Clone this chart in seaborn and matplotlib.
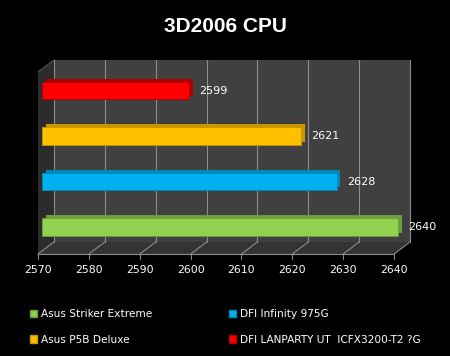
import numpy as np
import pandas as pd
import seaborn as sns
import matplotlib.pyplot as plt
from matplotlib.patches import Patch, Polygon, Rectangle
from matplotlib.transforms import ScaledTranslation, IdentityTransform

# data (top to bottom)
boards = ["DFI LANPARTY UT  ICFX3200-T2 ?G", "Asus P5B Deluxe", "DFI Infinity 975G", "Asus Striker Extreme"]
scores = [2599, 2621, 2628, 2640]
colors = ["#FF0000", "#FFC000", "#00B0F0", "#92D050"]
dark_colors = ["#B00000", "#C89600", "#0088BC", "#6E9E3A"]
x_ticks = [2570, 2580, 2590, 2600, 2610, 2620, 2630, 2640]
legend_order = ["Asus Striker Extreme", "Asus P5B Deluxe", "DFI Infinity 975G", "DFI LANPARTY UT  ICFX3200-T2 ?G"]

df = pd.DataFrame({"board": boards, "score": scores})

sns.set_style("dark")
plt.rcParams["font.family"] = ["DejaVu Sans"]

W, H = 450, 356
fig = plt.figure(figsize=(4.5, 3.56), dpi=100, facecolor="black")
# axes = plane in which the bars sit (a bit behind the front edge)
ax = fig.add_axes([42 / W, 1 - 251 / H, (398 - 42) / W, (251 - 69) / H])
ax.set_facecolor("none")
for s in ax.spines.values():
    s.set_visible(False)

sns.barplot(data=df, x="score", y="board", hue="board", palette=colors,
            width=0.38, ax=ax, legend=False, saturation=1, zorder=5)
ax.set_xlim(2570, 2640)
ax.set_ylim(3.527, -0.4725)
ax.set_xticks([])
ax.set_yticks([])
ax.set_xlabel("")
ax.set_ylabel("")
ax.grid(False)

# depth vector in pixels: front plane = -0.25, back wall = +0.75
depth = np.array([16.0, 12.0])


def pt(x, y, d):
    return ax.transData.transform((x, y)) + d * depth


y_top, y_bot = ax.get_ylim()[1], ax.get_ylim()[0]
x0, x1 = ax.get_xlim()
ident = IdentityTransform()

# back wall
back = [pt(x0, y_bot, 0.75), pt(x1, y_bot, 0.75), pt(x1, y_top, 0.75), pt(x0, y_top, 0.75)]
ax.add_patch(Polygon(back, closed=True, facecolor="#404040", edgecolor="none",
                     transform=ident, clip_on=False, zorder=0))
# left side wall
side = [pt(x0, y_bot, -0.25), pt(x0, y_bot, 0.75), pt(x0, y_top, 0.75), pt(x0, y_top, -0.25)]
ax.add_patch(Polygon(side, closed=True, facecolor="#2C2C2C", edgecolor="none",
                     transform=ident, clip_on=False, zorder=0))
# floor
floor = [pt(x0, y_bot, -0.25), pt(x1, y_bot, -0.25), pt(x1, y_bot, 0.75), pt(x0, y_bot, 0.75)]
ax.add_patch(Polygon(floor, closed=True, facecolor="#333333", edgecolor="none",
                     transform=ident, clip_on=False, zorder=0))

grid_c = "#8C8C8C"
for t in x_ticks:
    # gridline on back wall
    a, b = pt(t, y_bot, 0.75), pt(t, y_top, 0.75)
    ax.plot([a[0], b[0]], [a[1], b[1]], color=grid_c, lw=0.8, transform=ident, clip_on=False, zorder=1)
    # floor diagonal
    f = pt(t, y_bot, -0.25)
    ax.plot([f[0], a[0]], [f[1], a[1]], color=grid_c, lw=0.8, transform=ident, clip_on=False, zorder=1)
    # tick mark
    ax.plot([f[0], f[0]], [f[1], f[1] - 5], color=grid_c, lw=0.8, transform=ident, clip_on=False, zorder=1)
    ax.text(f[0], f[1] - 16, str(t), transform=ident, ha="center", va="center",
            color="white", fontsize=7.8)
# left back edge and front axis line
a, b = pt(x0, y_top, -0.25), pt(x0, y_top, 0.75)
ax.plot([a[0], b[0]], [a[1], b[1]], color="#555555", lw=0.8, transform=ident, clip_on=False, zorder=1)
a, b = pt(x0, y_bot, -0.25), pt(x1, y_bot, -0.25)
ax.plot([a[0], b[0]], [a[1], b[1]], color=grid_c, lw=0.8, transform=ident, clip_on=False, zorder=1)

# 3d bars: darker extrusion behind each front face
ext = ScaledTranslation(3.5 / 100, 3 / 100, fig.dpi_scale_trans)
for bar, val, dc in zip(ax.patches[:len(scores)], scores, dark_colors):
    y = bar.get_y()
    h = bar.get_height()
    bar.set_x(x0)
    bar.set_width(val - x0)
    bar.set_edgecolor(dc)
    bar.set_linewidth(0.6)
    bar.set_clip_on(False)
    ax.add_patch(Rectangle((x0, y), val - x0, h, facecolor=dc, edgecolor="none",
                           transform=ax.transData + ext, clip_on=False, zorder=4))
    p = pt(val, y + h / 2, 0)
    ax.text(p[0] + 10, p[1], str(val), transform=ident, ha="left", va="center",
            color="white", fontsize=8, zorder=6)

fig.suptitle("3D2006 CPU", color="white", fontsize=15, fontweight="bold",
             family=["Liberation Sans", "DejaVu Sans"], y=0.952)

handles = [Patch(facecolor=colors[boards.index(n)], edgecolor=dark_colors[boards.index(n)], label=n)
           for n in legend_order]
leg = fig.legend(handles=handles, ncol=2, loc="upper left", bbox_to_anchor=(0.066, 0.131),
                 frameon=False, fontsize=7.6, labelcolor="white", handlelength=0.7,
                 handleheight=0.7, handletextpad=0.4, columnspacing=7.2, labelspacing=1.45,
                 borderpad=0, borderaxespad=0)

fig.savefig("out.png", dpi=100, facecolor="black")
